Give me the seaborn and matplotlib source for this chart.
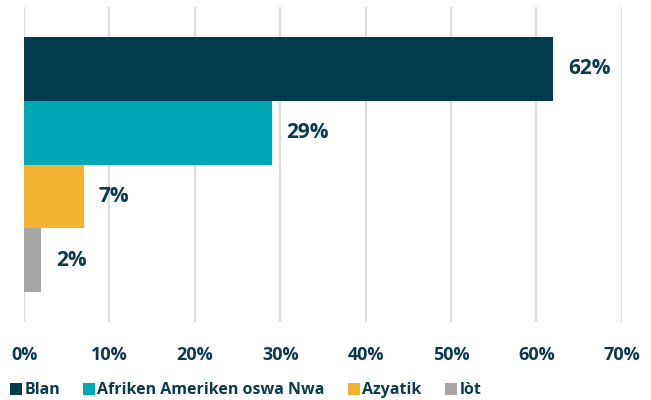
import matplotlib
matplotlib.use("Agg")
import matplotlib.pyplot as plt
from matplotlib.patches import Patch
import seaborn as sns
import pandas as pd

# data
categories = ["Blan", "Afriken Ameriken oswa Nwa", "Azyatik", "lòt"]
shares = [62, 29, 7, 2]
colors = ["#023a4f", "#00a8b5", "#f4b231", "#a6a6a6"]
xticks = [0, 10, 20, 30, 40, 50, 60, 70]

text_color = "#0b3a4e"

sns.set_theme(style="white")
plt.rcParams["font.family"] = ["Open Sans", "DejaVu Sans"]

df = pd.DataFrame({"cat": categories, "share": shares})

fig = plt.figure(figsize=(6.51, 4.0), dpi=100)
ax = fig.add_axes([0.037, 0.195, 0.918, 0.7875])

sns.barplot(data=df, x="share", y="cat", hue="cat", palette=colors,
            order=categories, hue_order=categories, width=1.0,
            dodge=False, legend=False, ax=ax, saturation=1,
            linewidth=0, edgecolor="none")

ax.set_xlim(0, 70)
ax.set_ylim(3.97, -0.97)
ax.set_xticks(xticks)
ax.set_xticklabels([f"{v}%" for v in xticks], fontsize=13,
                   fontweight="bold", color=text_color)
ax.tick_params(axis="x", length=0, pad=17)
ax.set_yticks([])
ax.set_xlabel("")
ax.set_ylabel("")
for s in ax.spines.values():
    s.set_visible(False)
ax.xaxis.grid(True, color="#dcdcdc", linewidth=1.6)
ax.set_axisbelow(True)

for i, v in enumerate(shares):
    ax.text(v + 1.7, i, f"{v}%", va="center", ha="left", fontsize=15,
            fontweight="bold", color=text_color)

handles = [Patch(facecolor=c, edgecolor="none") for c in colors]
fig.legend(handles, categories, loc="lower left", bbox_to_anchor=(-0.007, -0.032),
           ncol=4, frameon=False, handlelength=0.75, handleheight=0.75,
           handletextpad=0.15, columnspacing=1.45,
           prop={"family": ["Open Sans", "DejaVu Sans"], "weight": "bold", "size": 11.5},
           labelcolor=text_color)

fig.savefig("out.png", dpi=100)
